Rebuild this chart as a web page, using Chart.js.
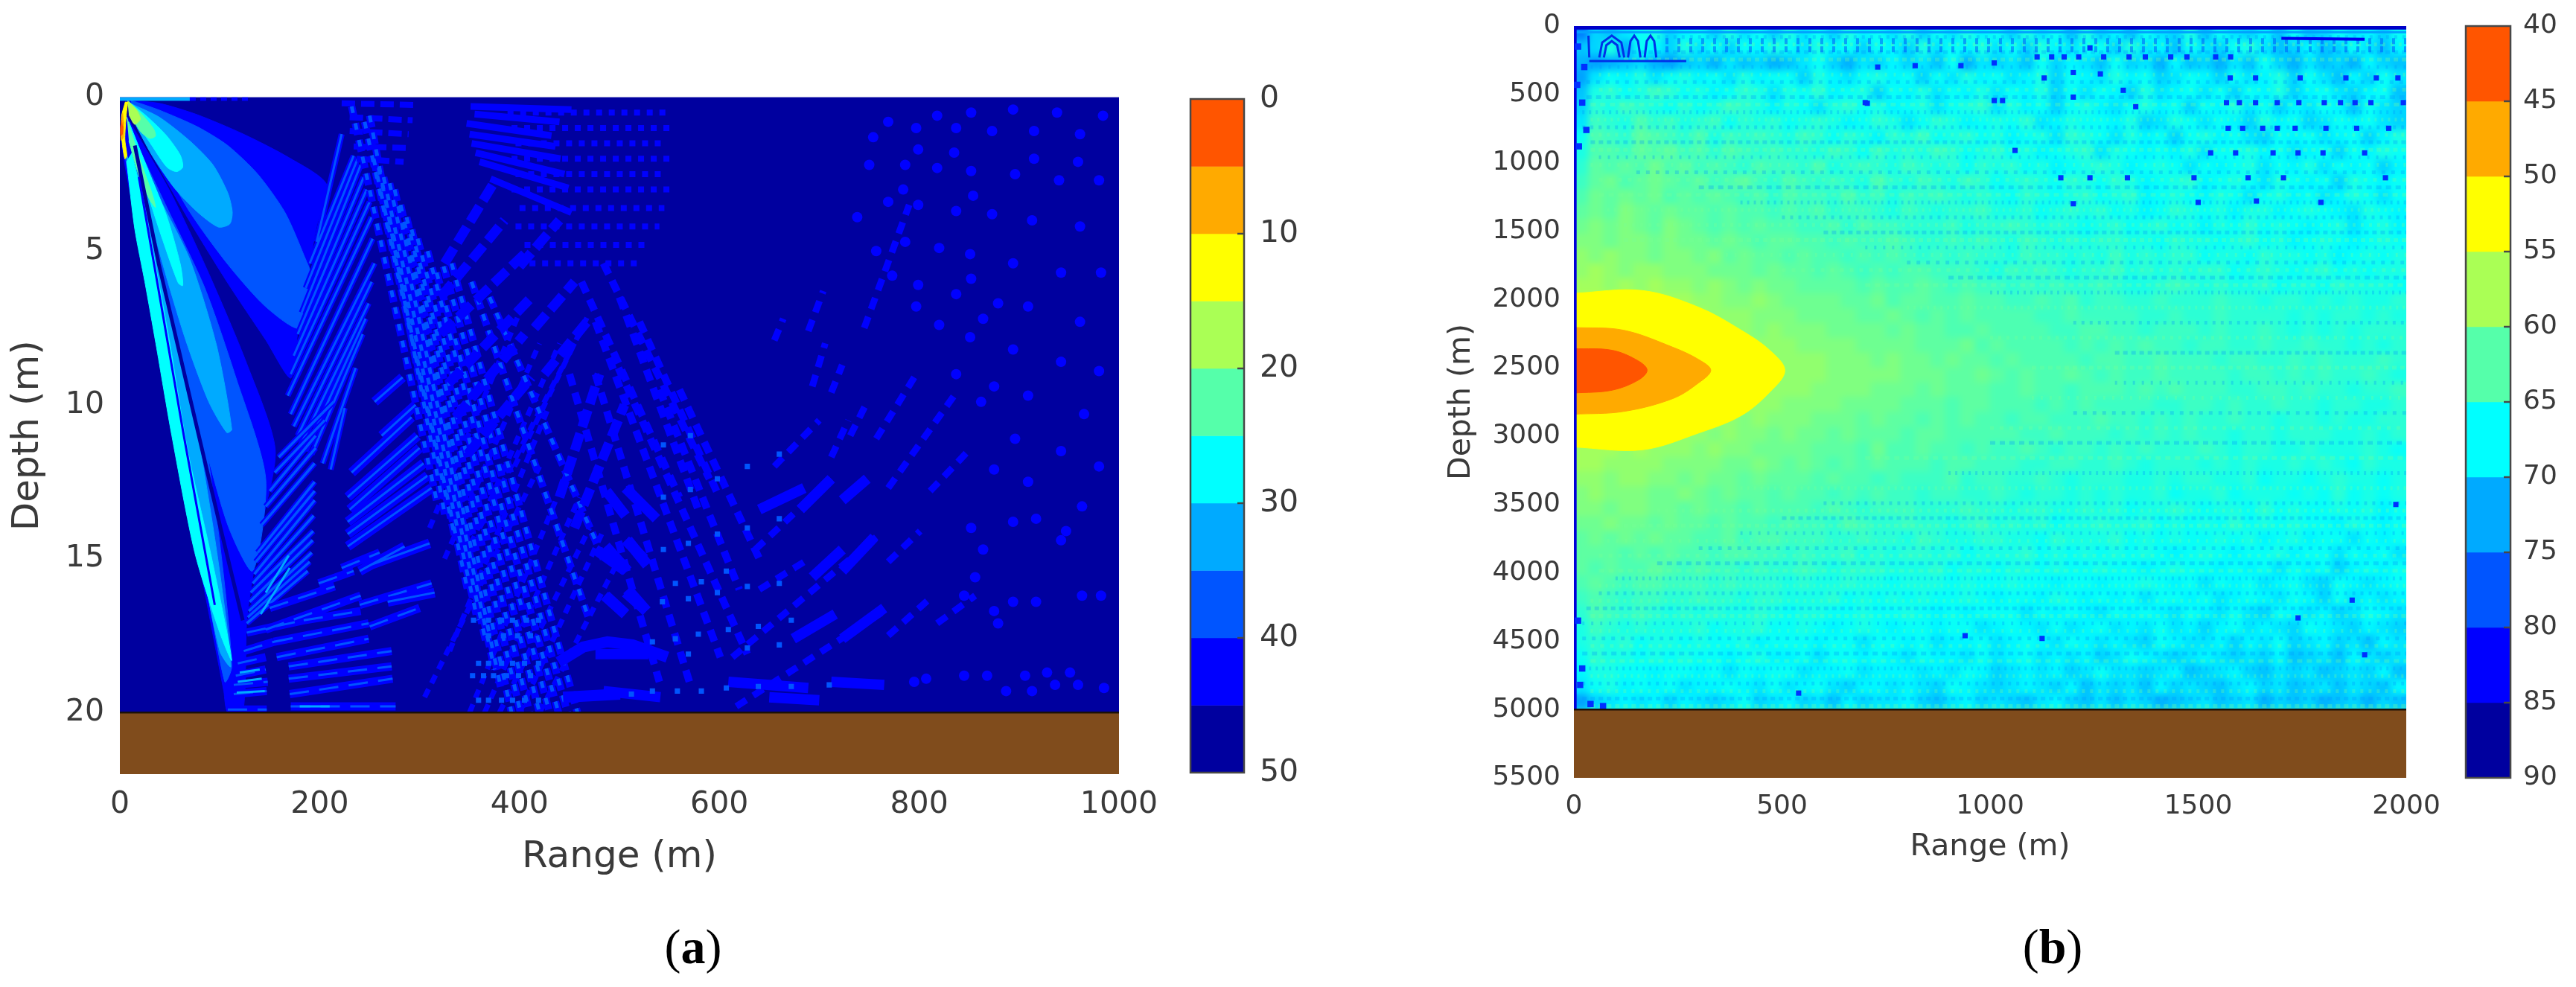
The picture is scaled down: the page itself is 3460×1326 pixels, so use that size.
<!DOCTYPE html>
<html><head><meta charset="utf-8">
<style>
html,body{margin:0;padding:0;background:#fff;width:3460px;height:1326px;overflow:hidden}
canvas{position:absolute;top:0}
.cap{position:absolute;top:1230px;font:66px "Liberation Serif",serif;color:#000;transform:translateX(-50%);line-height:84px}
</style></head><body>
<canvas id="a" width="1560" height="1182" style="left:0"></canvas>
<canvas id="ca" width="200" height="1100" style="left:1570px"></canvas>
<canvas id="b" width="1400" height="1163" style="left:1900px"></canvas>
<canvas id="cb" width="170" height="1100" style="left:3290px"></canvas>
<div class="cap" style="left:931px">(<b>a</b>)</div>
<div class="cap" style="left:2757px">(<b>b</b>)</div>
<script src="https://cdn.jsdelivr.net/npm/chart.js@4/dist/chart.umd.min.js"></script>
<script>
/* shared */
const jet=['#ff5500','#ffaa00','#ffff00','#aaff55','#55ffaa','#00ffff','#00aaff','#0055ff','#0000ff','#00009f'];
const brown='#804c1c', textCol='#3a3a3a', dd='#00009f';

/* ---------- panel (a): depth m / range m ---------- */
const aRangeTicks=[0,200,400,600,800,1000];
const aDepthTicks=[0,5,10,15,20];
const aBarTicks=[0,10,20,30,40,50];
const aBarEdges=[0,5,10,15,20,25,30,35,40,45,50];
const aSeabed=[[0,20],[1000,20],[1000,22],[0,22]];
/* contours of the loss field, each outline read as [range, depth] */
const envelope40=[[4,.4],[1,1.11],[5,2.19],[30,6.5],[55,11],[81,15.4],[104,19.3],[108,20],[123,20],[127,17],[133,15.6],[142,13.9],[155.5,11.44],[127,8.66],[89,5.73],[51,3.11],[13,.96]];
const lobe1_40=[[6,.1],[39.5,.2],[77.6,.57],[123,1.19],[169,1.96],[207,2.84],[197,4.19],[190,5.43],[184,6.66],[178,7.66],[171,9.13],[146,7.89],[108,6.04],[70,4.04],[32,1.88],[13,.72]];
const lobe1_35=[[11,.1],[39.5,.42],[77.6,.96],[108,1.57],[138,2.5],[165,3.73],[184,5.12],[193.5,6.04],[180,7.51],[146,6.81],[108,5.43],[70,3.73],[32,1.57],[13,.65]];
const lobe1_30=[[9,.18],[39.5,.65],[70,1.42],[93,2.19],[108,3.11],[112.5,3.73],[110,4.12],[98.5,4.22],[77.6,3.73],[54.8,2.96],[32,1.88],[13,.72]];
const lobe1_25=[[9,.15],[28,.65],[47,1.26],[60.4,1.88],[63,2.27],[56.6,2.42],[47,2.27],[32,1.57],[13,.65]];
const lobe1_20=[[9,.15],[22.4,.57],[33.8,1.03],[35.7,1.26],[30,1.34],[20.5,1.11],[11,.57]];
const lobe1_15=[[7.6,.1],[16.7,.42],[20.5,.72],[14.8,.88],[9,.57]];
const lobe2_35=[[13,1.26],[47,3.58],[85,6.2],[116,9.1],[146,12.4],[133,15.4],[108,13.9],[78,10.4],[51,6.66],[24,2.5]];
const lobe2_30=[[11,1.26],[39.5,3.27],[70,5.27],[96.6,8.05],[112,10.8],[107,10.9],[89,9.9],[66,7.9],[43,5.43],[20.5,2.65]];
const lobe2_25=[[9,.8],[28,2.34],[47,3.88],[60.5,5.43],[63,6.12],[58.5,6.04],[43,4.65],[26,2.96],[11,1.42]];
const lobe2_20=[[7,.65],[18.6,1.88],[32,3.11],[35.7,3.58],[30,3.34],[18.6,2.5],[9,1.42]];
const beam3_35=[[5,1.9],[31,6.3],[56,10.5],[81,14.8],[105,19],[112,18.5],[100,14.5],[80,10],[55,6],[25,2.5]];
const beam3_30=[[6,1.8],[27,5.7],[48,9.5],[75,14],[100,18],[111,18.5],[98,15],[78,11],[58,8],[38,5.5],[20,2.8]];
const beam3_25=[[6.7,2.08],[15,4.3],[25,6],[36,8],[52,11],[75,14.8],[100,17.4],[112,18.3],[92,15],[68,11.5],[50,8],[36,5.5],[22,3.2],[12,1.8]];
const edge10=[[5.5,.15],[1.7,.63],[2.2,1.44],[5,2],[7,1.9],[5,1.36],[6.5,.55],[8,.15]];
const tip5=[[3,.5],[1,.9],[1.2,1.4],[3.5,1.3],[4,.8]];
const tip0=[[2,.75],[.7,1],[1,1.25],[2.5,1.2],[3,.95]];
const darkStreak=[[15,1.57],[39,5.43],[70,9.75],[100,13.9],[123,17]];
const thinStreak=[[19,2.6],[40,6.5],[64,11],[95,16.5]];
const topRipple30=[[0,.06,70,.06]];
const topRipple40=[[70,.06,130,.06]];
/* striped interference, each [range1,depth1,range2,depth2] */
const fanSteep=[[197,4.7,222,1.2],[190,5.4,234,1.9],[182,7,241,2.2],[174,8.4,247,3],[168,9.7,252,3.9],[174,10.7,255,5.4],[181,11.3,249,6.7],[192,11.6,243,7.7],[203,11.9,236,8.8],[211,12.1,225,10.1],[186,6.2,238,2],[178,7.7,244,2.6],[171,9,250,3.4],[171,10.3,253,4.6],[178,11,252,6],[186,11.5,246,7.2]];
const fanLow=[[134.6,15.5,195,13.1],[131,16.1,193.5,14.1],[129,16.7,192,14.8],[127,17.1,188,15.4],[138,14.8,195,12.5],[142,13.9,195,11.9],[150,12.8,196,11],[159,11.7,214,9.9],[146,13.3,196,11.4],[136,15.1,195,12.8],[133,15.8,194,13.6],[130,16.4,193,14.4],[155,12.2,205,10.5],[128,16.9,190,15.1]];
const fanBright=[[146,16.1,169,14.9],[141,16.8,170,15.3]];
const seabedRows=[[108,19.9,147,19.9],[171,19.8,276,19.8],[114,19.4,147,19.3],[170,19.4,273,18.9],[114,19.1,148,19],[169,18.9,272,18.5],[116,18.8,146,18.6],[169,18.5,272,18],[118,18.4,146,18.2],[157,18.2,249,17.6],[124,18,154,17.7],[154,17.7,249,17.1],[127,17.4,184,17],[184,17,241,16.7],[146,17.3,241,16.2],[199,15.8,234,15.4],[222,15.3,260,14.8],[150,16.6,215,15.9],[240,16.5,312,15.8],[250,17.2,300,16.6]];
const seabedBright=[[180,19.8,210,19.8],[117,19.35,145,19.3],[118,19,142,18.9],[120,18.7,140,18.6]];
const centreFan=[[228,14.6,312,12.7],[228,13.8,304,11.9],[228,13,298,11],[232,12.2,292,10.4],[255,9.9,283,9.1],[268,16.4,315,16.1],[251,15.2,310,14.5],[240,15.4,285,14.6],[262,11,296,10],[228,14.2,308,12.3],[230,13.4,300,11.4]];
const latticeDown=[[232,.3,317,13.1],[245,.8,336,14.4],[254,2,348,16],[264,2.6,367,17.8],[275,3,382,19.3],[287,3.9,401,20],[298,4.6,420,20],[317,5.7,439,20],[332,5.4,458,20],[352,6,470,17],[370,6.5,484,15],[250,.6,326,13.7],[259,2.3,358,17],[270,2.8,375,18.6],[281,3.5,392,20],[292,4.3,410,20],[308,5,430,20],[324,5.5,448,20]];
const latticeUp=[[305,19.5,420,12],[350,20,450,12],[380,20,470,14],[420,20,500,15],[345,15,440,8],[395,12,470,7],[310,14,400,7],[330,18,430,10],[365,20,460,13],[400,20,485,14],[360,14,455,8],[325,15,420,8]];
const topBands=[[351,.3,452,.4],[347,.85,432,1.25],[352,1.5,441,2],[360,2.1,449,2.95],[371,2.65,452,3.75],[355,.55,440,.8],[350,1.2,436,1.6],[356,1.8,445,2.5]];
const topBeads=[[222,.2,294,.25],[230,.65,293,.75],[230,1.1,289,1.2],[234,1.6,287,1.65],[237,2,284,2.1]];
const thickBlobs=[[325,5.4,374,2.8],[321,6.5,385,4],[321,7.7,408,5],[329,9.3,412,6.5],[336,10.4,405,7.7],[348,11.6,412,9.1],[440,13,480,9],[455,14,505,10],[400,5.5,440,4],[415,7.5,455,6],[425,9,470,7.2]];
const farLattice=[[388,.5,550,.5],[392,1,552,1],[396,1.5,548,1.5],[392,2,553,2],[396,2.5,548,2.5],[392,3,552,3],[400,3.6,545,3.6],[396,4.2,540,4.2],[405,4.8,530,4.8],[410,5.4,520,5.4]];
const farDown=[[484,5.4,590,12.4],[476,7.3,601,18.2],[499,8.8,628,18.1],[476,9,570,19],[520,7.3,600,13],[450,9,540,19],[500,6.5,580,13.5],[540,9.5,620,16],[560,9.5,640,15],[462,6,560,13]];
const farUp=[[613,18.2,757,14.3],[636,14.7,712,12.4],[617,19.8,765,16.7],[640,16,690,15],[655,12,700,10.5],[689,7.6,704,6.3],[712,9.6,723,8.7],[693,9.4,706,8],[712,11.7,729,10.5],[731,11,748,9.9],[655,7.9,664,7.2],[757,11.1,799,8.9],[769,12.7,835,9.7],[769,15.1,801,14.1],[811,12.8,852,11.4],[769,17.5,814,16.2],[818,17.1,856,16.2],[745,7.5,790,3.5]];
const farBlobs=[[476,14.7,506,15.4],[485,16.2,506,16.8],[506,16.1,527,16.7],[506,12.7,537,13.7],[506,14.4,525,15],[487,12.8,506,13.6],[476,18.1,529,18.1],[484,19.3,541,19.5],[609,19,689,19.2],[712,19,765,19.1],[650,19.5,700,19.6],[693,15.6,723,14.7],[723,15.4,755,14.3],[723,17.6,765,16.6],[674,17.6,716,16.8],[681,13.4,712,12.4],[723,13.1,748,12.4],[640,13.4,685,12.7]];
const waveBands=[[[439,18.36],[463.6,17.87],[488,17.7],[513,17.8],[548,18.2]],[[443.6,19.5],[500.7,19.4]],[[486,14.6],[508,15.4]],[[508,14.4],[528,15.2]],[[486,16.2],[506,16.8]],[[508,16],[527,16.7]]];
const latticeDots=[[359,18.4],[369,18.4],[382,18.4],[393,18.4],[405,18.4],[419,18.4],[359,19.6],[369,19.6],[382,19.6],[393,19.6],[405,19.6],[419,19.6],[353,18.8],[364,18.8],[374,18.8],[387,18.8],[399,18.8],[411,18.8],[369,17.5],[384,17.5],[398,17.5],[411,17.5],[354,17],[369,17],[382,17],[393,17],[407,17],[419,17],
[544,11.3],[571,11],[598,12.4],[571,12.75],[544,13],[628,12],[660,11.6],[598,14.2],[569,14.5],[544,14.7],[628,14],[660,13.7],[556,15.8],[582,15.75],[607,15.4],[628,15.9],[660,15.8],[543,16.4],[569,16.3],[598,16.1],[579,17.45],[609,17.3],[639,17.2],[672,17],[556,17.6],[533,17.7],[569,18.1],[628,17.9],[660,17.8],[558,19.3],[582,19.3],[607,19.2],[639,19.15],[672,19.15],[710,19.1],[533,19.3],[512,19.4]];
const farDots=[[769,.8],[797,1],[818,.6],[852,.5],[894,.4],[938,.5],[984,.6],[837,1],[873,1.1],[915,1.1],[961,1.2],[754,1.3],[786,2.2],[818,2.3],[852,2.4],[896,2.5],[940,2.7],[980,2.7],[799,1.7],[835,1.8],[915,2],[959,2.1],[769,3.4],[799,3.5],[837,3.7],[873,3.8],[913,4],[961,4.2],[784,3],[854,3.2],[750,2.2],[738,3.9],[757,5],[786,4.7],[820,4.9],[851,5.1],[894,5.4],[942,5.7],[982,5.7],[773,5.8],[799,6.1],[852,5.9],[879,6.7],[909,6.8],[961,7.3],[797,6.8],[837,6.4],[864,7.2],[820,7.4],[851,7.8],[894,8.2],[942,8.6],[980,8.9],[875,9.4],[909,9.7],[965,10.3],[837,9],[862,9.9],[896,11.1],[942,11.5],[980,12],[875,12.1],[909,12.5],[963,13.3],[917,13.7],[894,13.8],[852,14],[942,14.4],[856,15.6],[894,16.4],[917,16.4],[963,16.2],[982,16.2],[875,16.7],[879,17.1],[845,16.2],[906,18.8],[928,18.7],[951,18.7],[868,18.8],[845,18.8],[807,18.9],[795,19],[887,19.3],[913,19.3],[936,19.1],[959,19.1],[985,19.2],[864,14.7],[947,14.1]];

/* ---------- panel (b): depth m / range m ---------- */
const bRangeTicks=[0,500,1000,1500,2000];
const bDepthTicks=[0,500,1000,1500,2000,2500,3000,3500,4000,4500,5000,5500];
const bBarTicks=[40,45,50,55,60,65,70,75,80,85,90];
const bBarEdges=[40,45,50,55,60,65,70,75,80,85,90];
const bSeabed=[[0,5000],[2000,5000],[2000,5500],[0,5500]];
/* loss in dB per cell: 0=50 dB ... 9=59, a=60 ... k=70 ... u=80 ; 7 cells per group, 46 rows */
const bLossRows=[
"pkljhgk ihkgjhk gjhkgih jgkhjgi hkgjhlg kilhjkg lhjkilh lkhjikh",
"lkgmhik gjhkhig hjgihkh ikgjhig jhkgijh hkgjilh jkhgjlk ilkhjli",
"mnmlkmn lkmjlkm ljhkmjk ikjlhmj kjlhkij lhkjmil kmjlhkm jlkmikl",
"njhigjh gihjgih hkgijhg ihkhjgi hjigkhi jgihkjh ikhjigk hjlikhj",
"lgfhgef hgihfgj ghfihgk higjhig jhigkhj hikgjih jhkhigk ihjkihl",
"kfgefgh fhgefgi ghjgfhg ihgjhgf jgihkhg ijhgihk higjhki jhilhjk",
"jefgdfe gfehfgf hgfgihf gjhfgih ghfjigh higkjgh jhikgih kjhihjk",
"hdefcde fdgefef gefhfgi fgehgfh gihgjfg hjgihkh gihjkhi hjihkig",
"gddecdc edfdefe ffgefhe gfgefhg fhgihgf jghihig jhhgihj ihkhigh",
"fcdcdbd cedefde efdgfef gefgfhf gfhgihg fgihghj hihgjhi gjhihki",
"ecbdcbc dcedcef defefgd fgefgef hgfghfg hfgihgf ihghjgh ihkghih",
"dbcbcbd cdcdedf deefdfe gefefgf ghfghgf hgfihgh ighjhgi hjighjh",
"cbcabcb ccdcdde dedfeef gefgffe ggfhgfg fhgihfg hgiggih ghijghi",
"bababca bcdcdcd deedfde efffegf fefgfgh gfhgfhg ighfhgh ihgjhgi",
"aabaaba bbcbcdc cddedee deffefe fgefgfg ffgghfg ghgfhgi hghihgh",
"9a9aaba abacbcc dcddede defefef fgeffgf gegfgff hgghfgg hgihghg",
"989a99a aabbbcb ccdcded eddeeef gefefgf fegfgfg ffhgfgh gfhghgg",
"8898989 9a9abab bccccdc ddcdede efefeff efggfef gfggfhg ghfgggh",
"7778888 899aa9a bbbbccb dccddcd deededf eeffeff feffgff gfgfggf",
"6777888 88999aa abbbbcc bcdcdcd dddeede eeeffef feffffg fgffgfg",
"5677788 88899a9 aaabbbb cbccddc ddddeed deefeee feffefg fgfgfff",
"4667778 8889999 9aaaabb bbcccbd cdddded ededeef eeffeff effgfgf",
"3566777 7888899 999aaab abbcbcc dcdddde ddeedee efeeffe fefffef",
"3566777 7788889 999aaaa abbbccb cdcddcd edeedee eefeefe feffefg",
"4667778 8889899 99aaaab bbcbccc ddcdded ddedede eeffeef effgffe",
"5677788 8889999 aaaabbb bcccdcc dddeded eeeeffe efeffef fgffggf",
"6777888 8999a9a aabbbcb ccdcdcd deddeee deefefe ffeffgf fgfggff",
"7888899 99a9aab abbcbcc cdccddd ddeedee efefefe ffgffgf ffggfgf",
"8889899 9a9aabb bbcccdb ddcdded eedefee fefefff efgffgg fgggfgh",
"889999a aaabbab cbcdcdc dddedde eeffeef fefgfff gfgfggf gfghfgg",
"99a99aa babbcbc ccdcdde deeedfe effefgf ffggfgf fggfhgg hgfgghg",
"a9aaabb abcbccd cddeded eefeeff efgffgf gfggfhg gfhgggh ghfhghg",
"aabaabb cbccdcd ddedefe eefffef fgffggf gfhggfg hgghfhg hhghgih",
"bbabbcb ccdcdde deefdef feffgfe gfgfhgg fggfhgh ghfhghg hhighih",
"cbcbcbc cddcedd eeeffef fgefggf fgghfgg gfhghgh hghgihg ihhjhih",
"cccdcdc ddeddee feffegf gffgfhg ggfhghg hghghih ghihhgi hhjhihj",
"cdcddcd edeefef fefgfff gggfhgg hgghghh ghhihgh hihihjh ihkihih",
"dcdedde eefefff gfggfgg hggghgh hghhihh ihhghih jhihjih jkhijih",
"edefeef feffgff gggfhgh ghghhgh ihhighi hihjhhi hjihijh ikhjiji",
"fdefefg fgfggfg hgghhgh hghihih hhjhihi jhihijh ijhjkhi jikjhij",
"gefgfgg gfhggfh hghihgh ihhihhj ihijhji hjijhji kihjijk hijkijk",
"gfgfhgg hghhgih hhihhjh hihjiih jihijhi jijkhij jikijhk jikjlij",
"hfgghgh ghhihgi ihjhhih ijhiijh jihjiji kjhijkj ijkjkil kjlijkj",
"igghhih hihjhih hjiihji iijijhi kjijikj hjjkjil kjikljk jlkjkil",
"jhgihih jiihijh jihjkii jijkhij kjijkil jkjlikj kljikjl kjljkli",
"nkjijik ijkjhkj ikjlikj jikljik jkljikl jljkmlk jlkjmkl kmlkmkl"
].map(r=>r.replace(/ /g,''));
const contour55=[[0,1955],[165,1935],[302,2060],[402,2225],[470,2370],[507,2520],[470,2680],[402,2850],[302,2975],[165,3100],[0,3080]];
const contour50=[[0,2205],[119,2225],[238,2350],[300,2440],[329,2518],[300,2610],[238,2725],[119,2820],[0,2840]];
const contour45=[[0,2360],[92,2372],[155,2450],[176,2518],[155,2590],[92,2664],[0,2685]];
const topEdgeB=[[0,12],[2000,12]];
const topEdge2B=[[0,45],[2000,45]];
const leftEdgeB=[[3,0],[3,5000]];
const leftBlotches=[[10,150],[25,300],[8,430],[20,560],[30,760],[12,880],[10,4350],[15,4820],[40,4960],[70,4975],[20,4700]];
const archesB=[[[61,230],[68,120],[91,70],[114,120],[121,230]],[[72,230],[78,140],[91,110],[104,140],[110,230]],[[130,230],[136,110],[145,70],[154,110],[160,230]],[[170,230],[175,110],[184,70],[193,110],[198,230]],[[35,70],[37,230]],[[37,256],[270,256]]];
const speckB=[[1113,226],[1148,226],[1178,226],[1213,226],[1273,226],[1334,226],[1373,226],[1434,226],[1473,226],[1542,226],[1578,226],[1577,380],[1638,380],[1745,380],[1855,380],[1928,380],[1980,380],[1568,560],[1599,560],[1638,560],[1690,560],[1742,560],[1803,560],[1842,560],[1877,560],[1915,560],[1993,560],[1572,748],[1607,748],[1655,748],[1690,748],[1733,748],[1807,748],[1881,748],[1958,748],[1530,928],[1590,928],[1680,928],[1740,928],[1800,928],[1900,928],[1170,1110],[1240,1110],[1330,1110],[1490,1110],[1620,1110],[1705,1110],[1950,1110],[700,560],[705,565],[1010,545],[1030,545],[1200,520],[1350,590],[1130,380],[1200,340],[1265,350],[730,300],[820,290],[930,290],[1010,270],[1240,160],[1320,470],[1060,910],[1200,1300],[1500,1290],[1640,1280],[1795,1290],[940,4460],[1125,4480],[540,4880],[1740,4330],[1900,4600],[1870,4200],[1975,3500]];
const bluePatch=[[1700,90],[1900,96]];
/* rows of fine grain: [depth, first range] */
const grainCool=[[80,200],[190,120],[300,40],[410,30],[520,30],[630,20],[740,20],[850,40],[960,60],[1070,150],[1180,300],[1290,400],[1400,500],[1510,600],[1620,700],[1730,800],[1840,900],[1950,1000],[2170,1200],[2390,1300],[2610,1300],[2830,1200],[3050,1000],[3270,900],[3490,600],[3600,500],[3710,400],[3820,300],[3930,200],[4040,100],[4150,60],[4260,30],[4370,20],[4480,20],[4590,20],[4700,20],[4810,20],[4920,20]];
const grainWarm=[[135,250],[245,120],[355,60],[465,60],[575,40],[685,40],[795,40],[905,40],[1015,40],[1125,60],[1235,60],[1345,80],[1455,100],[1565,120],[1675,300],[1785,500],[1895,700],[2060,800],[2280,1000],[2500,1100],[2720,1100],[2940,1000],[3160,700],[3380,400],[3545,200],[3655,100],[3765,80],[3875,60],[3985,60],[4095,60],[4205,40],[4315,40],[4425,40],[4535,40],[4645,40],[4755,40],[4865,40],[4975,40]];
const archRows=[[220,110,2000,110],[220,170,2000,170]];
const grainDash=[[4,7],[6,5],[3,9],[5,8],[7,6],[3,6]];

/* ---------- helpers that turn the arrays into library datasets ---------- */
const xy=p=>({x:p[0],y:p[1]});
const poly=(pts,c,t)=>({data:pts.map(xy),showLine:true,fill:'shape',tension:t===undefined?.25:t,backgroundColor:c,borderColor:c,borderWidth:1,pointRadius:0});
const path=(pts,c,w)=>({data:pts.map(xy),showLine:true,fill:false,borderColor:c,borderWidth:w,pointRadius:0});
const segs=(list,c,w,dash)=>({data:list.flatMap(s=>[{x:s[0],y:s[1]},{x:s[2],y:s[3]},{x:NaN,y:NaN}]),showLine:true,spanGaps:false,fill:false,borderColor:c,borderWidth:w,borderDash:dash||[],pointRadius:0});
const dots=(list,c,r,style)=>({data:list.map(xy),showLine:false,pointStyle:style||'circle',pointRadius:r,pointBackgroundColor:c,pointBorderWidth:0});
const grain=(rows,c)=>rows.map((g,i)=>({data:[{x:g[1],y:g[0]},{x:2000,y:g[0]}],showLine:true,fill:false,borderColor:c,borderWidth:5,borderDash:grainDash[i%grainDash.length],pointRadius:0}));
const framePlugin=ticks=>({id:'frame',afterDraw(ch){const {ctx,chartArea:A,scales:{y}}=ch;ctx.save();ctx.strokeStyle='#484848';ctx.lineWidth=2.5;ctx.strokeRect(A.left,A.top,A.right-A.left,A.bottom-A.top);ticks.forEach(v=>{const p=y.getPixelForValue(v);ctx.beginPath();ctx.moveTo(A.right-9,p);ctx.lineTo(A.right,p);ctx.stroke();});ctx.restore();}});
const bgPlugin=c=>({id:'bg',beforeDatasetsDraw(ch){const {ctx,chartArea:A}=ch;ctx.save();ctx.fillStyle=c;ctx.fillRect(A.left,A.top,A.right-A.left,A.bottom-A.top);ctx.restore();}});
/* one soft pass over the finished cell layer, so cell edges melt like the interpolated image */
const softCells={id:'soft',afterDatasetDraw(ch,a){if(ch.data.datasets[a.index].softCells){const {ctx,chartArea:A,canvas}=ch,w=A.right-A.left,h=A.bottom-A.top;ctx.save();ctx.beginPath();ctx.rect(A.left,A.top,w,h);ctx.clip();ctx.filter='blur(5px)';ctx.drawImage(canvas,A.left,A.top,w,h,A.left,A.top,w,h);ctx.restore();}}};

function field(canvas,sets,o){
  new Chart(canvas,{type:'scatter',data:{datasets:sets.slice().reverse()},plugins:[bgPlugin(o.bg),softCells],options:{
    responsive:false,animation:false,events:[],
    layout:{padding:o.pad},
    plugins:{legend:{display:false},tooltip:{enabled:false}},
    scales:{
      x:{type:'linear',min:0,max:o.xMax,grid:{display:false,drawTicks:false},border:{display:false},
        afterBuildTicks:s=>{s.ticks=o.xTicks.map(v=>({value:v}))},
        afterFit:s=>{s.height=o.xH;s.paddingLeft=0;s.paddingRight=0},
        ticks:{font:{family:'DejaVu Sans',size:o.tick},color:textCol,padding:o.xPad,maxRotation:0,autoSkip:false,callback:v=>String(v)},
        title:{display:true,text:'Range (m)',font:{family:'DejaVu Sans',size:o.title},color:textCol,padding:0}},
      y:{type:'linear',reverse:true,min:0,max:o.yMax,grid:{display:false,drawTicks:false},border:{display:false},
        afterBuildTicks:s=>{s.ticks=o.yTicks.map(v=>({value:v}))},
        afterFit:s=>{s.width=o.yW;s.paddingTop=0;s.paddingBottom=0},
        ticks:{font:{family:'DejaVu Sans',size:o.tick},color:textCol,padding:o.yPad,autoSkip:false,callback:v=>String(v)},
        title:{display:true,text:'Depth (m)',font:{family:'DejaVu Sans',size:o.title},color:textCol,padding:0}}
    }}});
}
function bar(canvas,edges,ticks,o){
  const sets=jet.map((c,i)=>({data:[[edges[i],edges[i+1]]],backgroundColor:c,borderWidth:0,grouped:false,barPercentage:1,categoryPercentage:1}));
  new Chart(canvas,{type:'bar',data:{labels:[''],datasets:sets},plugins:[framePlugin(ticks.slice(1,-1))],options:{
    responsive:false,animation:false,events:[],layout:{padding:o.pad},
    plugins:{legend:{display:false},tooltip:{enabled:false}},
    scales:{x:{display:false},
      y:{position:'right',reverse:true,min:edges[0],max:edges[10],grid:{display:false,drawTicks:false},border:{display:false},
        afterBuildTicks:s=>{s.ticks=ticks.map(v=>({value:v}))},
        afterFit:s=>{s.width=o.w;s.paddingTop=0;s.paddingBottom=0},
        ticks:{font:{family:'DejaVu Sans',size:o.tick},color:textCol,padding:o.p,autoSkip:false,callback:v=>String(v)}}}}});
}

/* panel a */
field(document.getElementById('a'),[
  poly(envelope40,jet[8]),poly(beam3_35,jet[7]),poly(lobe2_35,jet[7]),
  poly(beam3_30,jet[6]),poly(lobe2_30,jet[6]),poly(beam3_25,jet[5]),poly(lobe2_25,jet[5]),poly(lobe2_20,jet[4]),
  path(darkStreak,dd,5),path(thinStreak,jet[8],3),
  poly(lobe1_40,jet[8]),poly(lobe1_35,jet[7]),poly(lobe1_30,jet[6]),poly(lobe1_25,jet[5]),poly(lobe1_20,jet[4]),poly(lobe1_15,jet[3]),
  poly(edge10,jet[2]),poly(tip5,jet[1]),poly(tip0,jet[0]),
  segs(topRipple30,jet[6],5),segs(topRipple40,jet[8],5,[8,6]),
  segs(fanSteep,jet[8],8),segs(fanSteep,jet[7],3),
  segs(fanLow,jet[8],8),segs(fanLow,jet[7],3.5),segs(fanBright,jet[6],3),
  segs(seabedRows,jet[8],11),segs(seabedRows,jet[7],3,[26,14]),segs(seabedBright,jet[6],3),
  segs(centreFan,jet[8],13),segs(centreFan,jet[7],3),
  segs(topBands,jet[8],9),segs(topBeads,jet[8],8,[18,8]),
  segs(latticeUp,jet[8],7,[12,9]),
  segs(latticeDown,jet[8],10,[16,7]),segs(latticeDown,jet[7],5,[9,14]),
  segs(thickBlobs,jet[8],13,[24,9]),
  segs(farLattice,jet[8],8,[8,9]),
  segs(farDown,jet[8],10,[16,10]),
  segs(farUp,jet[8],9,[16,11]),
  segs(farBlobs,jet[8],14),
  ...waveBands.map(w=>path(w,jet[8],15)),
  dots(latticeDots,jet[7],5,'rect'),
  dots(farDots,jet[8],7),
  poly(aSeabed,brown,0),
  path([[0,20],[1000,20]],'#1a1008',2.5)
],{bg:dd,pad:{left:8,top:130.6,right:57,bottom:0},xMax:1000,yMax:22,xTicks:aRangeTicks,yTicks:aDepthTicks,xH:142,yW:153,tick:41,title:50,xPad:17,yPad:21});
bar(document.getElementById('ca'),aBarEdges,aBarTicks,{pad:{left:29,top:133,right:0,bottom:62},w:99,tick:41,p:21});

/* panel b */
const lossRamp=jet.map(c=>[parseInt(c.slice(1,3),16),parseInt(c.slice(3,5),16),parseInt(c.slice(5,7),16)]);
const lossColour=v=>{const t=Math.max(0,Math.min(8.999,(v-42.5)/5)),i=Math.floor(t),f=t-i,a=lossRamp[i],b=lossRamp[i+1];return `rgb(${a.map((q,k)=>Math.round(q+(b[k]-q)*f)).join(',')})`;};
const cellW=2000/56,cellH=5000/46;
const cells=[],cellCols=[];
bLossRows.forEach((row,r)=>{[...row].forEach((ch,c)=>{cells.push({x:(c+.5)*cellW,y:(r+.5)*cellH});cellCols.push(lossColour(50+parseInt(ch,36)));});});
field(document.getElementById('b'),[
  {softCells:true,data:cells,showLine:false,pointStyle:'rect',pointRadius:15,pointBackgroundColor:cellCols,pointBorderWidth:0},
  ...grain(grainCool,'rgba(0,150,255,.30)'),...grain(grainWarm,'rgba(120,255,150,.30)'),
  segs(archRows,'rgba(0,90,255,.55)',8,[4,12]),
  poly(contour55,jet[2],.35),poly(contour50,jet[1],.35),poly(contour45,jet[0],.35),
  dots(speckB,'#0030ff',5,'rect'),
  path(bluePatch,'#0000ee',4),
  path(topEdge2B,'#00a0ff',3),path(topEdgeB,'#0000c8',5),path(leftEdgeB,'#0000d8',4),
  dots(leftBlotches,'#0030ff',6,'rect'),
  ...archesB.map(p=>path(p,'#0030e8',3)),
  poly(bSeabed,brown,0),
  path([[0,5000],[2000,5000]],'#1a1008',2.5)
],{bg:'#20ffd0',pad:{left:39,top:35,right:68,bottom:0},xMax:2000,yMax:5500,xTicks:bRangeTicks,yTicks:bDepthTicks,xH:118,yW:175,tick:36,title:41,xPad:17,yPad:18});
bar(document.getElementById('cb'),bBarEdges,bBarTicks,{pad:{left:22,top:35,right:0,bottom:55},w:88,tick:36,p:17});
</script></body></html>
